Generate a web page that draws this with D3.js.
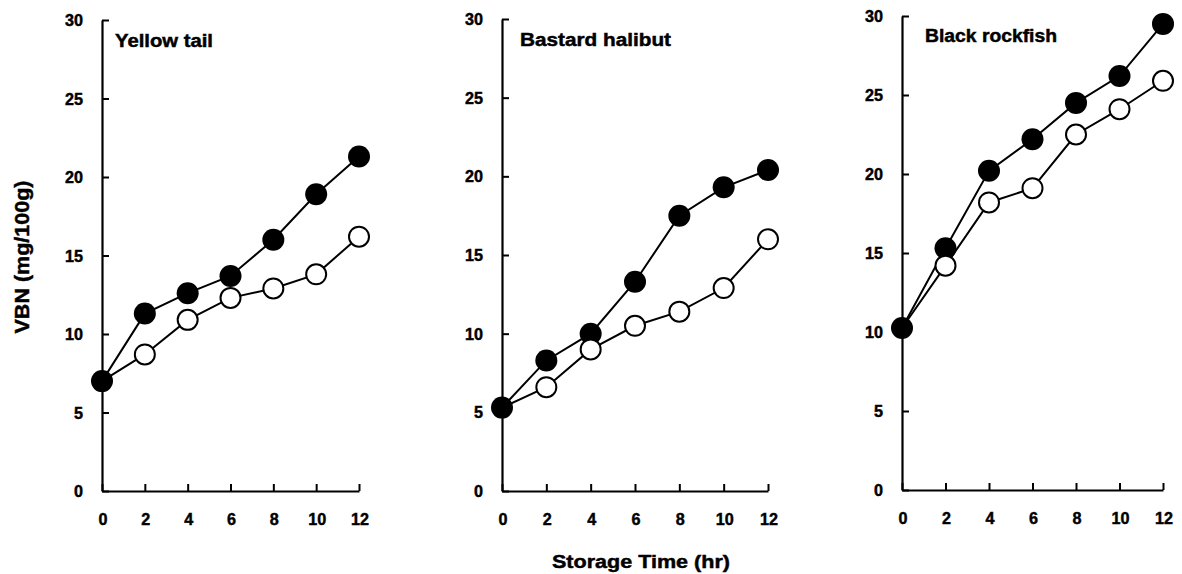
<!DOCTYPE html>
<html>
<head>
<meta charset="utf-8">
<script src="https://cdn.jsdelivr.net/npm/d3@7"></script>
<style>
  html, body { margin: 0; padding: 0; background: #fff; }
  svg { display: block; }
  text { font-family: "Liberation Sans", Arial, Helvetica, sans-serif; font-weight: bold; fill: #000; stroke: #000; stroke-width: 0.45px; }
</style>
</head>
<body>
<svg id="chart" width="1182" height="574"></svg>
<script>
// ---- data ----
const times = [0, 2, 4, 6, 8, 10, 12];
const xTicks = [0, 2, 4, 6, 8, 10, 12];
const yTicks = [0, 5, 10, 15, 20, 25, 30];
const panelNames = ["Yellow tail", "Bastard halibut", "Black rockfish"];

const yellowFilled   = [7.0, 11.3, 12.6, 13.7, 16.0, 18.9, 21.3];
const yellowOpen     = [7.0, 8.7, 10.9, 12.3, 12.9, 13.8, 16.2];
const halibutFilled  = [5.3, 8.3, 10.0, 13.3, 17.5, 19.3, 20.4];
const halibutOpen    = [5.3, 6.6, 9.0, 10.5, 11.4, 12.9, 16.0];
const rockfishFilled = [10.25, 15.3, 20.2, 22.2, 24.5, 26.2, 29.5];
const rockfishOpen   = [10.25, 14.2, 18.2, 19.1, 22.5, 24.1, 25.9];

const yLabel = "VBN (mg/100g)";
const xLabel = "Storage Time (hr)";

// ---- layout ----
const panels = [
  { name: panelNames[0], filled: yellowFilled, open: yellowOpen,
    x0: 102, x1: 359, yBot: 491, yTop: 20, titleX: 115, titleY: 47, titleW: 98 },
  { name: panelNames[1], filled: halibutFilled, open: halibutOpen,
    x0: 502, x1: 768, yBot: 491, yTop: 19, titleX: 520, titleY: 46, titleW: 151 },
  { name: panelNames[2], filled: rockfishFilled, open: rockfishOpen,
    x0: 902, x1: 1163, yBot: 490, yTop: 16, titleX: 925, titleY: 42, titleW: 132 }
];

const svg = d3.select("#chart");
const digitW = 9;

panels.forEach(p => {
  const x = d3.scaleLinear().domain([0, 12]).range([p.x0, p.x1]);
  const y = d3.scaleLinear().domain([0, 30]).range([p.yBot, p.yTop]);
  const g = svg.append("g");

  // y axis (ticks pointing inward / right)
  const yAx = g.append("g").attr("transform", `translate(${p.x0},0)`)
    .call(d3.axisRight(y).tickValues(yTicks).tickSize(7).tickSizeOuter(0).tickFormat(""));
  yAx.select(".domain").attr("stroke", "#000").attr("stroke-width", 2.2);
  yAx.selectAll(".tick line").attr("stroke", "#000").attr("stroke-width", 2);
  g.selectAll(".ylab").data(yTicks).enter().append("text")
    .attr("x", p.x0 - 19).attr("y", d => y(d) + 6)
    .attr("text-anchor", "end").attr("font-size", 16.5)
    .attr("textLength", d => String(d).length * digitW)
    .attr("lengthAdjust", "spacingAndGlyphs").text(d => d);

  // x axis (ticks pointing upward)
  const xAx = g.append("g").attr("transform", `translate(0,${p.yBot})`)
    .call(d3.axisTop(x).tickValues(xTicks).tickSize(7).tickSizeOuter(0).tickFormat(""));
  xAx.select(".domain").attr("stroke", "#000").attr("stroke-width", 2.2);
  xAx.selectAll(".tick line").attr("stroke", "#000").attr("stroke-width", 2);
  g.selectAll(".xlab").data(xTicks).enter().append("text")
    .attr("x", d => x(d) + 1).attr("y", p.yBot + 34)
    .attr("text-anchor", "middle").attr("font-size", 16.5)
    .attr("textLength", d => String(d).length * digitW)
    .attr("lengthAdjust", "spacingAndGlyphs").text(d => d);

  // panel title
  g.append("text").attr("x", p.titleX).attr("y", p.titleY)
    .attr("font-size", 17.5).attr("textLength", p.titleW)
    .attr("lengthAdjust", "spacingAndGlyphs").text(p.name);

  const line = d3.line().x((d, i) => x(times[i])).y(d => y(d));
  g.append("path").datum(p.filled).attr("d", line)
    .attr("fill", "none").attr("stroke", "#000").attr("stroke-width", 2);
  g.append("path").datum(p.open).attr("d", line)
    .attr("fill", "none").attr("stroke", "#000").attr("stroke-width", 2);

  g.selectAll(".fdot").data(p.filled).enter().append("circle")
    .attr("cx", (d, i) => x(times[i])).attr("cy", d => y(d)).attr("r", 11)
    .attr("fill", "#000");
  const openPts = p.open.map((v, i) => ({ t: times[i], v: v, i: i }))
    .filter(d => d.v !== p.filled[d.i]);
  g.selectAll(".odot").data(openPts).enter().append("circle")
    .attr("cx", d => x(d.t)).attr("cy", d => y(d.v)).attr("r", 10)
    .attr("fill", "#fff").attr("stroke", "#000").attr("stroke-width", 2);
});

// axis titles
svg.append("text")
  .attr("transform", "translate(29,257) rotate(-90)")
  .attr("text-anchor", "middle").attr("font-size", 20)
  .attr("textLength", 153).attr("lengthAdjust", "spacingAndGlyphs")
  .text(yLabel);

svg.append("text")
  .attr("x", 641).attr("y", 568)
  .attr("text-anchor", "middle").attr("font-size", 18)
  .attr("textLength", 178).attr("lengthAdjust", "spacingAndGlyphs")
  .text(xLabel);
</script>
</body>
</html>
